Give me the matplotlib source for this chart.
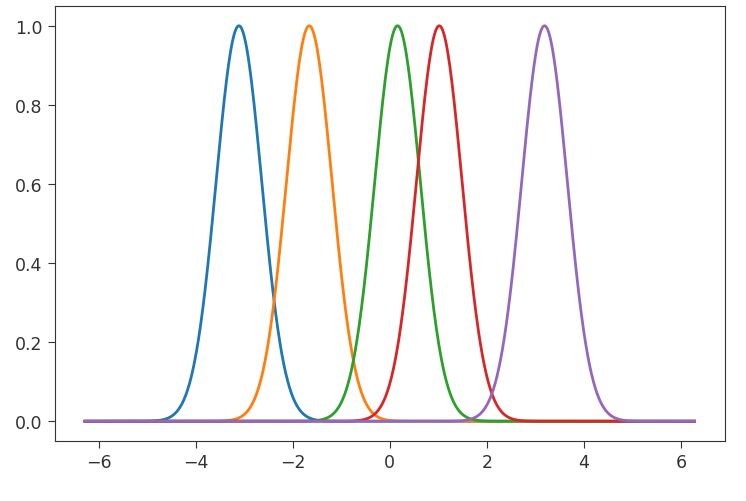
import numpy as np
import matplotlib.pyplot as plt

# peak centres and widths
centers = [-3.11, -1.66, 0.16, 1.02, 3.19]
widths = [0.47, 0.47, 0.47, 0.47, 0.47]
x_min, x_max = -2 * np.pi, 2 * np.pi

x = np.linspace(x_min, x_max, 1000)

fig = plt.figure(figsize=(7.46, 5.02), dpi=100)
ax = fig.add_axes([0.0731, 0.1195, 0.8988, 0.8665])

for mu, sigma in zip(centers, widths):
    ax.plot(x, np.exp(-(x - mu) ** 2 / (2 * sigma ** 2)), linewidth=2)

ax.tick_params(labelsize=12.5, length=5, colors='#333333')
for s in ax.spines.values():
    s.set_color('#333333')
ax.set_yticks([0.0, 0.2, 0.4, 0.6, 0.8, 1.0])

fig.savefig("out.png", dpi=100)
